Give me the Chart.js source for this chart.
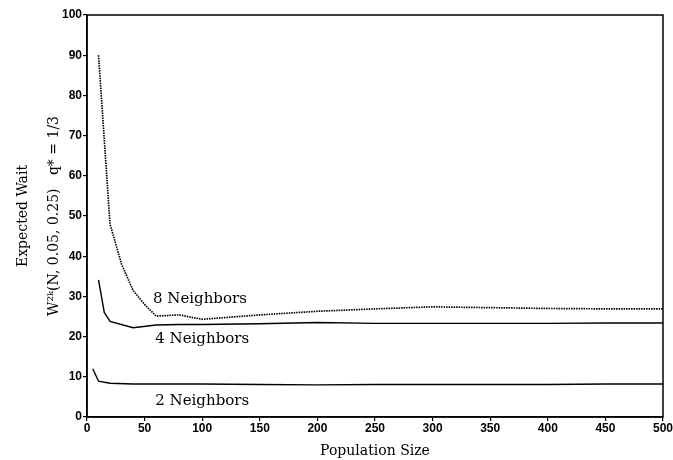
<!DOCTYPE html>
<html>
<head>
<meta charset="utf-8">
<script src="https://cdn.jsdelivr.net/npm/chart.js@4"></script>
<style>
  html, body { margin: 0; padding: 0; background: #fff; }
  #wrap { width: 673px; height: 460px; }
</style>
</head>
<body>
<div id="wrap"><canvas id="chart" width="673" height="460"></canvas></div>
<script>
// valeurs
const popSize2 = [5, 10, 20, 40, 60, 80, 100, 150, 200, 250, 300, 350, 400, 450, 500];
const wait2    = [12, 8.9, 8.4, 8.2, 8.2, 8.2, 8.2, 8.1, 8.0, 8.1, 8.1, 8.1, 8.1, 8.2, 8.2];

const popSize4 = [10, 15, 20, 40, 60, 80, 100, 150, 200, 250, 300, 350, 400, 450, 500];
const wait4    = [34.1, 26, 23.8, 22.2, 22.9, 23.0, 23.0, 23.2, 23.5, 23.3, 23.3, 23.3, 23.3, 23.4, 23.4];

const popSize8 = [10, 20, 30, 40, 50, 60, 80, 100, 150, 200, 250, 300, 350, 400, 450, 500];
const wait8    = [90, 48, 38, 31.5, 28, 25.1, 25.4, 24.3, 25.4, 26.3, 26.9, 27.4, 27.2, 27.0, 26.9, 26.9];

const xTicks = [0, 50, 100, 150, 200, 250, 300, 350, 400, 450, 500];
const yTicks = [0, 10, 20, 30, 40, 50, 60, 70, 80, 90, 100];

// étiquettes posées dans le graphique (coordonnées en données)
const seriesLabels = [
    { text: '8 Neighbors', x: 98, y: 29.4 },
    { text: '4 Neighbors', x: 100, y: 19.5 },
    { text: '2 Neighbors', x: 100, y: 4.0 }
];

const serif = "'DejaVu Serif', 'Liberation Serif', serif";
const sans = "'Liberation Sans', Arial, sans-serif";

const toPoints = (xs, ys) => xs.map((x, i) => ({ x: x, y: ys[i] }));

// cadre + étiquettes des courbes
const framePlugin = {
    id: 'frame',
    afterDatasetsDraw(chart) {
        const { ctx, chartArea: a, scales } = chart;
        ctx.save();
        ctx.strokeStyle = '#000';
        ctx.lineWidth = 1.5;
        ctx.strokeRect(a.left, a.top, a.right - a.left, a.bottom - a.top);

        ctx.font = '15px ' + serif;
        ctx.fillStyle = '#000';
        ctx.textAlign = 'center';
        ctx.textBaseline = 'middle';
        seriesLabels.forEach(l => {
            ctx.fillText(l.text, scales.x.getPixelForValue(l.x), scales.y.getPixelForValue(l.y));
        });
        ctx.restore();
    }
};

new Chart(document.getElementById('chart').getContext('2d'), {
    type: 'line',
    data: {
        datasets: [
            {
                label: '8 Neighbors',
                data: toPoints(popSize8, wait8),
                borderColor: '#000',
                borderWidth: 1.7,
                borderDash: [1.5, 1],
                pointRadius: 0,
                tension: 0
            },
            {
                label: '4 Neighbors',
                data: toPoints(popSize4, wait4),
                borderColor: '#000',
                borderWidth: 1.4,
                pointRadius: 0,
                tension: 0
            },
            {
                label: '2 Neighbors',
                data: toPoints(popSize2, wait2),
                borderColor: '#000',
                borderWidth: 1.4,
                pointRadius: 0,
                tension: 0
            }
        ]
    },
    options: {
        responsive: false,
        animation: false,
        layout: { padding: { top: 15, right: 9, left: 0, bottom: 0 } },
        plugins: {
            legend: { display: false },
            tooltip: { enabled: false }
        },
        scales: {
            x: {
                type: 'linear',
                min: 0,
                max: 500,
                afterBuildTicks: (scale) => { scale.ticks = xTicks.map(v => ({ value: v })); },
                afterFit: (scale) => { scale.height = 43; },
                border: { display: true, color: '#000', width: 1.5 },
                grid: { drawOnChartArea: false, color: '#000', tickLength: 4, lineWidth: 1.2 },
                ticks: {
                    color: '#000',
                    padding: 0,
                    maxRotation: 0,
                    font: { family: sans, size: 12, weight: 'bold' }
                },
                title: {
                    display: true,
                    text: 'Population Size',
                    color: '#000',
                    padding: { top: 3, bottom: 0 },
                    font: { family: serif, size: 14 }
                }
            },
            y: {
                min: 0,
                max: 100,
                afterBuildTicks: (scale) => { scale.ticks = yTicks.map(v => ({ value: v })); },
                afterFit: (scale) => { scale.width = 87; },
                border: { display: true, color: '#000', width: 1.5 },
                grid: { drawOnChartArea: false, color: '#000', tickLength: 4, lineWidth: 1.2 },
                ticks: {
                    color: '#000',
                    padding: 1,
                    font: { family: sans, size: 12, weight: 'bold' }
                },
                title: {
                    display: true,
                    text: ['Expected Wait', 'W²ᵏ(N, 0.05, 0.25)   q* = 1/3'],
                    color: '#000',
                    padding: { top: 8, bottom: 4 },
                    font: { family: serif, size: 14, lineHeight: 2.2 }
                }
            }
        }
    },
    plugins: [framePlugin]
});
</script>
</body>
</html>
